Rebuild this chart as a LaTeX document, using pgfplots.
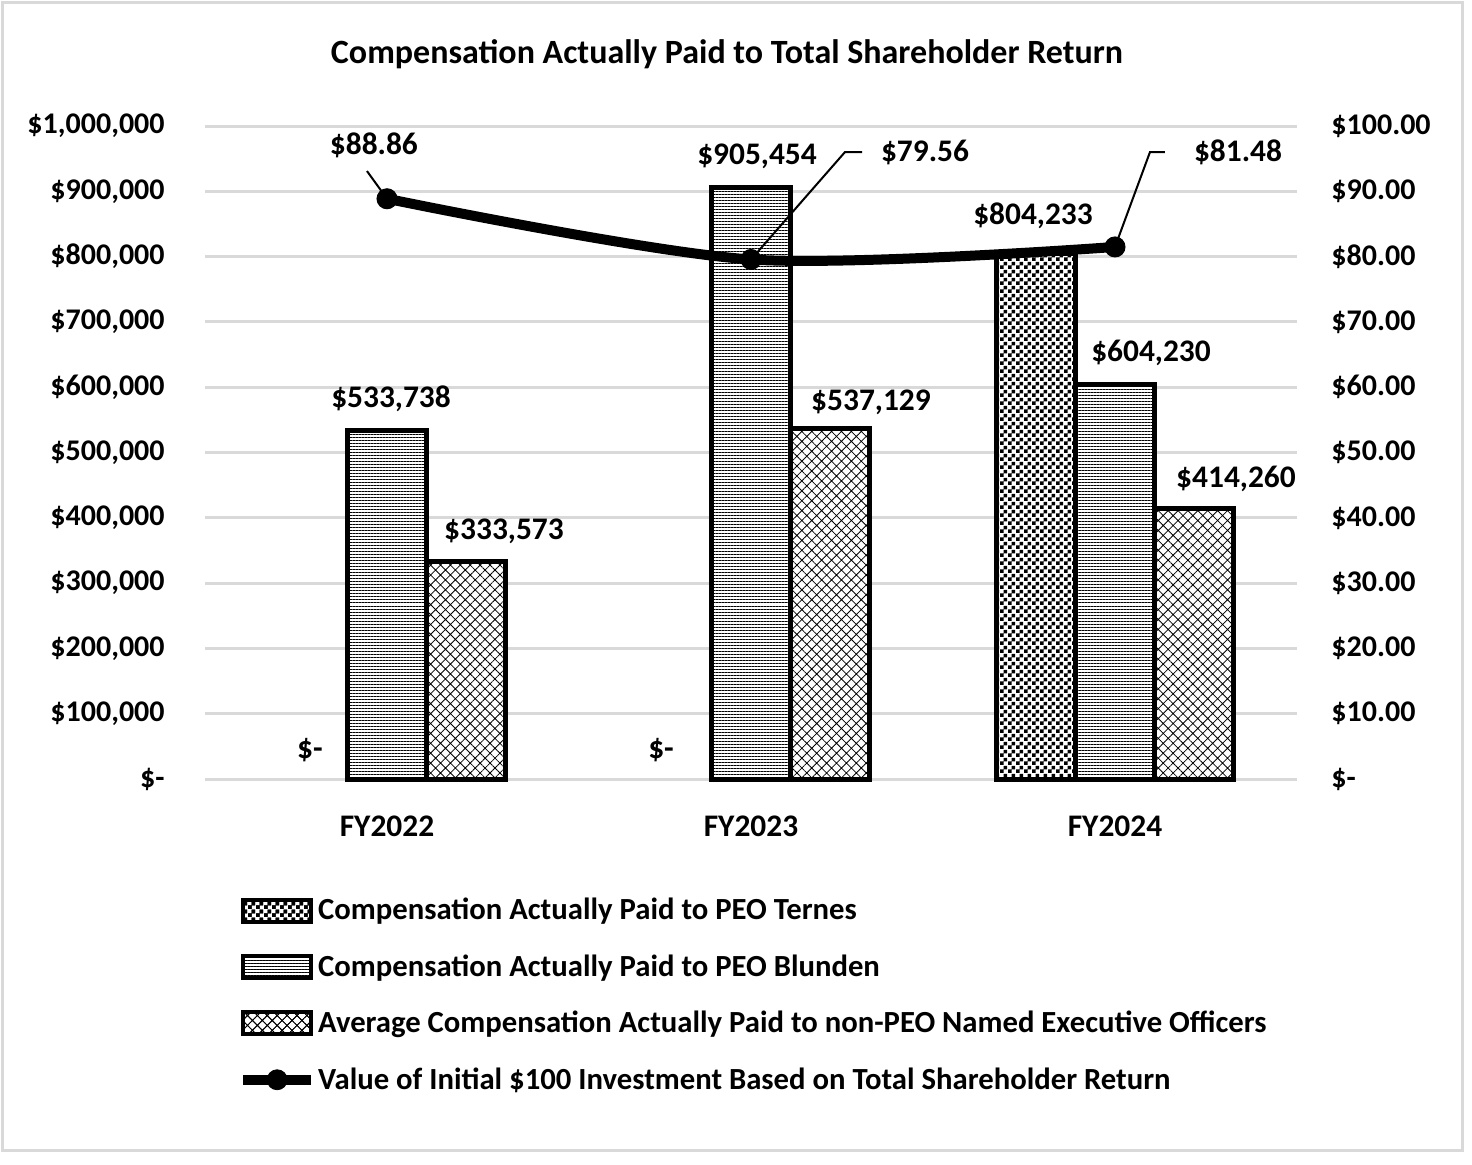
\documentclass[border=0pt]{standalone}
\usepackage{fontspec}
\setmainfont{Carlito}
\usepackage{pgfplots}
\pgfplotsset{compat=1.18}
\usepackage{pgfplotstable}
\usetikzlibrary{patterns,patterns.meta}
\definecolor{gridgray}{RGB}{217,217,217}
\newcommand\cf{\fontsize{15}{18}\selectfont\bfseries}
\newcommand\lf{\fontsize{15.7}{19}\selectfont\bfseries}
\newcommand\gf{\fontsize{15.35}{18.5}\selectfont\bfseries}
\newcommand\tf{\fontsize{17}{20}\selectfont\bfseries}
\pgfdeclarepatternformonly{mychecker}{\pgfpointorigin}{\pgfqpoint{4pt}{4pt}}{\pgfqpoint{4pt}{4pt}}{%
 \pgfpathrectangle{\pgfpointorigin}{\pgfqpoint{2pt}{2pt}}%
 \pgfpathrectangle{\pgfqpoint{2pt}{2pt}}{\pgfqpoint{2pt}{2pt}}%
 \pgfusepath{fill}}
\pgfplotstableread{
x y dx dy lab
0 0 1 0 \$-
1 0 -5.5 0 \$-
}\zeros
\pgfplotstableread{
x y dx dy lab
2 804233 -1.5 3 \$804,233
}\ternes
\pgfplotstableread{
x y dx dy lab
0 533738 2 0 \$533,738
1 905454 3 0 \$905,454
2 604230 18 0 \$604,230
}\blunden
\pgfplotstableread{
x y dx dy lab
0 333573 19 -1 \$333,573
1 537129 20.5 -3 \$537,129
2 414260 21 -1 \$414,260
}\avgneo
\begin{document}
\begin{tikzpicture}
\path (0,0) rectangle (736pt,-582pt);
\draw[gridgray, line width=1.5pt] (1pt,-1pt) rectangle (731pt,-575pt);
\node[font=\tf] at (363.5pt,-27pt) {Compensation Actually Paid to Total Shareholder Return};
\begin{axis}[
 at={(102.5pt,-389.5pt)}, anchor=south west,
 scale only axis, width=546pt, height=326.5pt,
 xmin=-0.5, xmax=2.5, ymin=0, ymax=1000000,
 axis line style={draw=none}, major tick length=0pt,
 xtick={0,1,2}, xticklabels={FY2022,FY2023,FY2024},
 xticklabel style={anchor=center, yshift=-23.5pt, font=\lf},
 ytick={0,100000,200000,300000,400000,500000,600000,700000,800000,900000,1000000},
 yticklabels={{\$-\hspace{4pt}},{\$100,000},{\$200,000},{\$300,000},{\$400,000},{\$500,000},{\$600,000},{\$700,000},{\$800,000},{\$900,000},{\$1,000,000}},
 yticklabel style={anchor=east, inner sep=0pt, xshift=-20pt, font=\cf},
 ymajorgrids, grid style={gridgray, line width=1.5pt},
 scaled y ticks=false,
 ybar, bar width=0.217,
 point meta=explicit symbolic,
 nodes near coords,
 visualization depends on={\thisrow{dx}\as\dx},
 visualization depends on={\thisrow{dy}\as\dy},
 nodes near coords style={font=\lf, anchor=south, yshift=5pt+\dy pt, xshift=\dx pt},
 clip=false,
 legend style={at={(axis description cs:0.030,-0.179)}, anchor=north west, draw=none, fill=none,
   font=\gf, row sep=13.9pt, inner sep=0pt, nodes={inner sep=1.0pt}},
 legend cell align=left,
]
\addplot[draw=none, fill=none, bar shift=-0.217, forget plot] table[x=x,y=y,meta=lab]{\zeros};
\addplot[draw=black, line width=2.5pt, fill=white, postaction={pattern=mychecker}, bar shift=-0.217,
  legend image code/.code={\draw[line width=2pt, fill=white, postaction={pattern=mychecker}] (0pt,-5.5pt) rectangle (34pt,5.5pt);}]
  table[x=x,y=y,meta=lab]{\ternes};
\addlegendentry{Compensation Actually Paid to PEO Ternes}
\addplot[draw=black, line width=2.5pt, fill=white, postaction={pattern={Lines[angle=0,distance=1.5pt,line width=0.5pt]}}, bar shift=0,
  legend image code/.code={\draw[line width=2pt, fill=white, postaction={pattern={Lines[angle=0,distance=1.5pt,line width=0.5pt]}}] (0pt,-5.5pt) rectangle (34pt,5.5pt);}]
  table[x=x,y=y,meta=lab]{\blunden};
\addlegendentry{Compensation Actually Paid to PEO Blunden}
\addplot[draw=black, line width=2.5pt, fill=white, postaction={pattern={Hatch[angle=45,distance=3.5pt,line width=0.4pt]}}, bar shift=0.217,
  legend image code/.code={\draw[line width=2pt, fill=white, postaction={pattern={Hatch[angle=45,distance=3.5pt,line width=0.4pt]}}] (0pt,-5.5pt) rectangle (34pt,5.5pt);}]
  table[x=x,y=y,meta=lab]{\avgneo};
\addlegendentry{Average Compensation Actually Paid to non-PEO Named Executive Officers}
\addlegendimage{legend image code/.code={\draw[line width=5pt] (0pt,0pt) -- (34pt,0pt); \fill (17pt,0pt) circle (5pt);}}
\addlegendentry{Value of Initial \$100 Investment Based on Total Shareholder Return}
\end{axis}
\begin{axis}[
 at={(102.5pt,-389.5pt)}, anchor=south west,
 scale only axis, width=546pt, height=326.5pt,
 xmin=-0.5, xmax=2.5, ymin=0, ymax=100,
 axis line style={draw=none}, major tick length=0pt,
 xtick=\empty,
 ytick={0,10,20,30,40,50,60,70,80,90,100},
 yticklabels={{\$-},{\$10.00},{\$20.00},{\$30.00},{\$40.00},{\$50.00},{\$60.00},{\$70.00},{\$80.00},{\$90.00},{\$100.00}},
 yticklabel pos=right,
 yticklabel style={anchor=west, inner sep=0pt, xshift=17pt, font=\cf},
 clip=false,
]
\addplot[line width=5pt, smooth, tension=0.5, mark=*, mark size=5pt, mark options={line width=0.5pt, fill=black}] coordinates {(0,88.86) (1,79.56) (2,81.48)};
\draw[line width=1pt] (axis cs:0,88.86) -- (axis cs:-0.055,93.1);
\node[font=\lf] at (axis cs:-0.036,97.1) {\$88.86};
\draw[line width=1pt] (axis cs:1,79.56) -- (axis cs:1.258,96) -- (axis cs:1.305,96);
\node[font=\lf] at (axis cs:1.478,95.9) {\$79.56};
\draw[line width=1pt] (axis cs:2,81.48) -- (axis cs:2.096,96) -- (axis cs:2.137,96);
\node[font=\lf] at (axis cs:2.338,95.9) {\$81.48};
\end{axis}
\end{tikzpicture}
\end{document}
